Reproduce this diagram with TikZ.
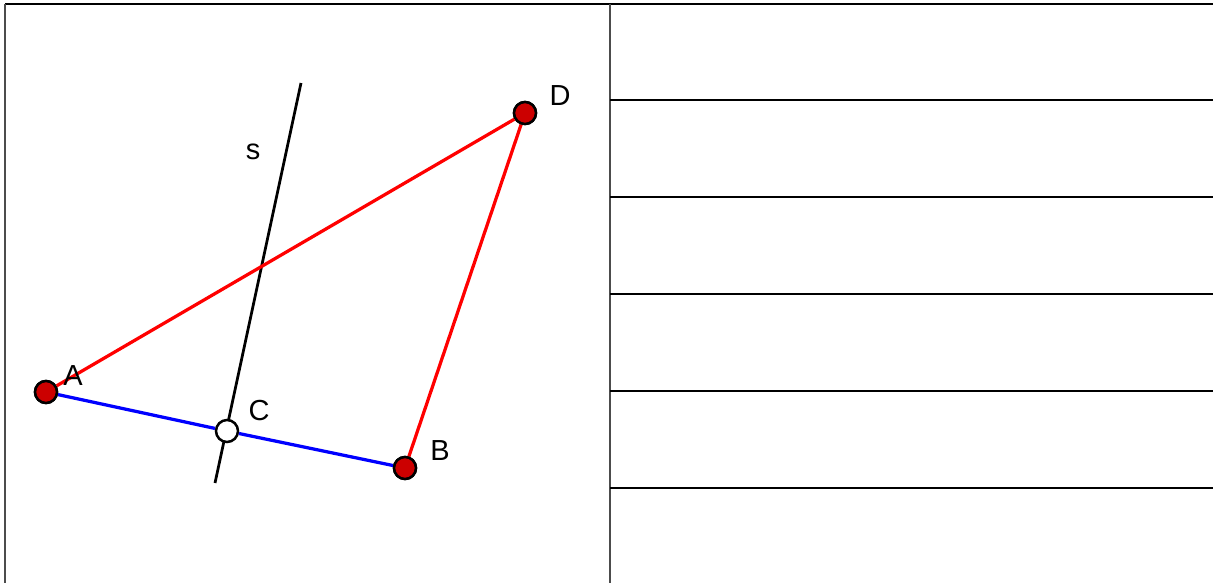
\documentclass[tikz,border=0pt]{standalone}
\usepackage{fontspec}
\setmainfont{Liberation Sans}
\begin{document}
\begin{tikzpicture}[x=0.02cm,y=-0.02cm,
  frame/.style={line width=0.045cm,black},
  gframe/.style={line width=0.045cm,black!70},
  seg/.style={line width=0.065cm},
  pt/.style={circle,draw=black,line width=0.05cm,fill=red!80!black,minimum size=0.44cm,inner sep=0pt},
  opt/.style={circle,draw=black,line width=0.05cm,fill=white,minimum size=0.44cm,inner sep=0pt},
  lab/.style={font=\fontsize{16.5}{18}\selectfont,inner sep=0pt}]
\useasboundingbox (0,0) rectangle (1213,583);
% table
\coordinate (tl) at (5,4);
\coordinate (tr) at (1213,4);
\coordinate (bl) at (5,583);
\coordinate (mt) at (610,4);
\coordinate (mb) at (610,583);
\draw[frame] (tl) -- (tr);
\draw[gframe] (tl) -- (bl);
\draw[gframe] (mt) -- (mb);
\foreach \y in {100,197,294,391,488}{
  \draw[frame] (610,\y) -- (1213,\y);
}
% geometry
\coordinate (s1) at (301,83);
\coordinate (s2) at (215,483);
\draw[line width=0.055cm] (s1) -- (s2);
\node[pt] (A) at (46,392) {};
\node[pt] (B) at (405,468) {};
\node[pt] (D) at (525,113) {};
\node[opt] (C) at (227,431) {};
\draw[seg,blue] (A) -- (C);
\draw[seg,blue] (C) -- (B);
\draw[seg,red] (A) -- (D);
\draw[seg,red] (D) -- (B);
\node[pt] at (A) {};
\node[pt] at (B) {};
\node[pt] at (D) {};
\node[lab] (lA) at (73,376) {A};
\node[lab] (lC) at (259,411) {C};
\node[lab] (lB) at (440,451) {B};
\node[lab] (lD) at (560,96) {D};
\node[lab] (ls) at (253,152) {s};
\end{tikzpicture}
\end{document}
